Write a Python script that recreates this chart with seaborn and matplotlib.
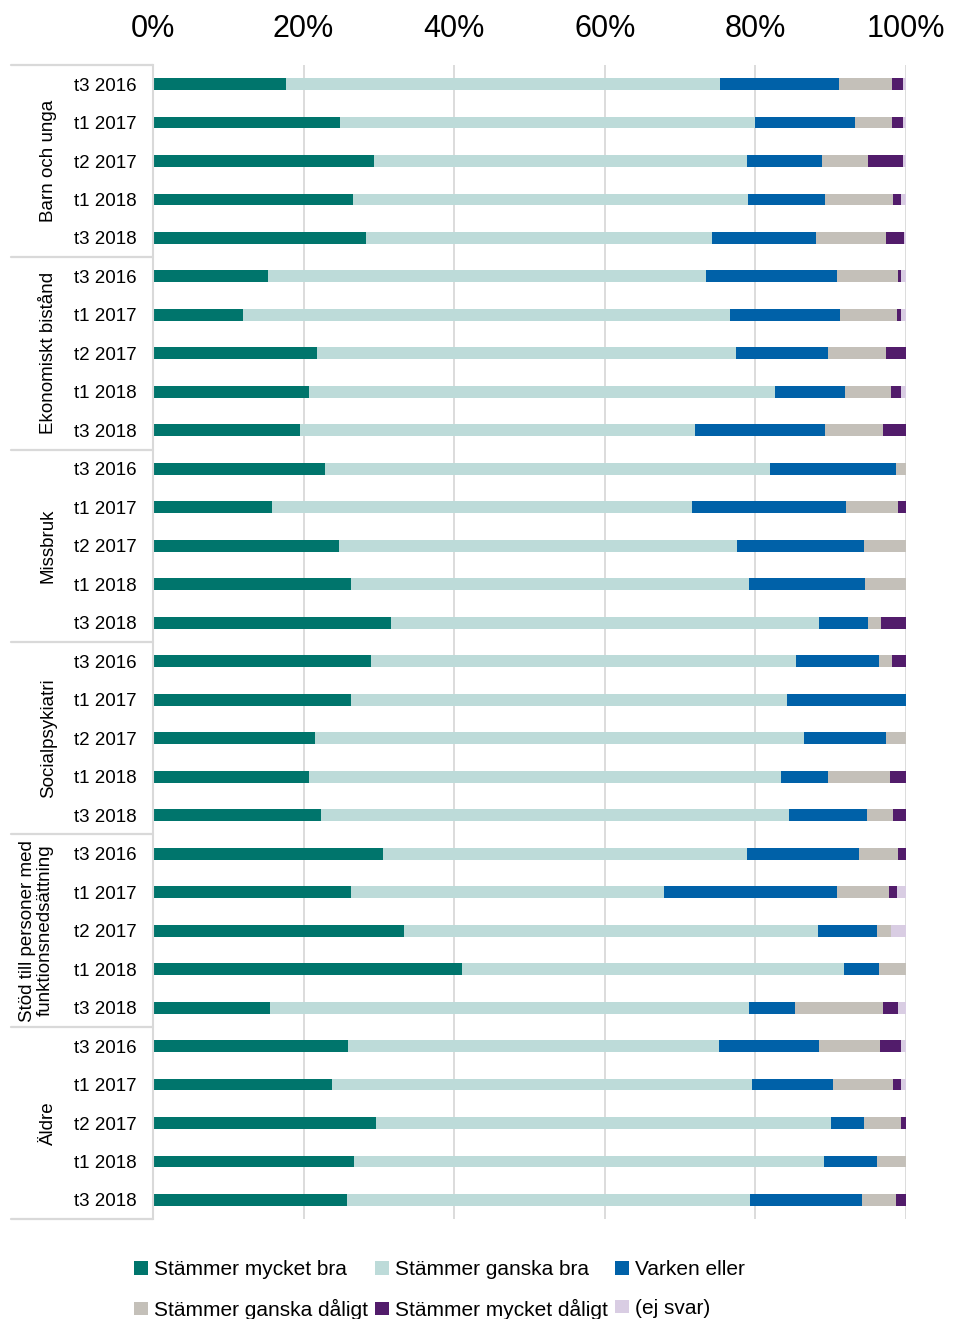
import pandas as pd
import matplotlib.pyplot as plt
import matplotlib.transforms as mtransforms
from matplotlib.patches import Patch
import seaborn as sns

# Set style
sns.set_theme(style="white")
plt.rcParams['font.family'] = ['Liberation Sans', 'DejaVu Sans']
plt.rcParams['text.color'] = 'black'
plt.rcParams['xtick.color'] = 'black'
plt.rcParams['ytick.color'] = 'black'

# Data (percent per answer)
groups = ["Barn och unga", "Ekonomiskt bistånd", "Missbruk", "Socialpsykiatri",
          "Stöd till personer med\nfunktionsnedsättning", "Äldre"]
periods = ["t3 2016", "t1 2017", "t2 2017", "t1 2018", "t3 2018"]

categories = ["Stämmer mycket bra", "Stämmer ganska bra", "Varken eller",
              "Stämmer ganska dåligt", "Stämmer mycket dåligt", "(ej svar)"]
colors = ["#00756c", "#bddbd9", "#0061a8", "#c4c0b9", "#521c6b", "#d9cde3"]

mycket_bra = [17.6, 24.9, 29.4, 26.6, 28.3,
              15.3, 11.9, 21.8, 20.7, 19.5,
              22.9, 15.8, 24.7, 26.3, 31.6,
              29.0, 26.3, 21.5, 20.7, 22.3,
              30.5, 26.3, 33.3, 41.1, 15.5,
              25.9, 23.8, 29.6, 26.7, 25.7]
ganska_bra = [57.7, 55.1, 49.5, 52.4, 45.9,
              58.1, 64.7, 55.6, 61.9, 52.5,
              59.1, 55.8, 52.8, 52.9, 56.8,
              56.4, 57.9, 65.0, 62.7, 62.2,
              48.4, 41.5, 55.0, 50.7, 63.7,
              49.2, 55.7, 60.4, 62.4, 53.6]
varken = [15.8, 13.2, 9.9, 10.3, 13.8,
          17.5, 14.6, 12.2, 9.3, 17.2,
          16.7, 20.4, 16.9, 15.3, 6.6,
          11.0, 15.8, 10.8, 6.2, 10.3,
          14.8, 23.0, 7.8, 4.6, 6.1,
          13.3, 10.8, 4.4, 7.0, 14.9]
ganska_daligt = [7.0, 5.0, 6.1, 9.0, 9.4,
                 8.0, 7.6, 7.8, 6.1, 7.8,
                 1.3, 6.9, 5.6, 5.5, 1.7,
                 1.8, 0.0, 2.7, 8.3, 3.5,
                 5.3, 6.9, 1.9, 3.6, 11.6,
                 8.1, 8.0, 5.0, 3.9, 4.5]
mycket_daligt = [1.5, 1.4, 4.7, 1.0, 2.3,
                 0.5, 0.5, 2.6, 1.3, 3.0,
                 0.0, 1.1, 0.0, 0.0, 3.3,
                 1.8, 0.0, 0.0, 2.1, 1.7,
                 1.0, 1.1, 0.0, 0.0, 2.0,
                 2.9, 1.1, 0.6, 0.0, 1.3]
ej_svar = [0.4, 0.4, 0.4, 0.7, 0.3,
           0.6, 0.7, 0.0, 0.7, 0.0,
           0.0, 0.0, 0.0, 0.0, 0.0,
           0.0, 0.0, 0.0, 0.0, 0.0,
           0.0, 1.2, 2.0, 0.0, 1.1,
           0.6, 0.6, 0.0, 0.0, 0.0]

series = [mycket_bra, ganska_bra, varken, ganska_daligt, mycket_daligt, ej_svar]

# Build table, one row per bar, with cumulative sums for stacking
rows = [(g, p) for g in groups for p in periods]
df = pd.DataFrame({"group": [r[0] for r in rows], "period": [r[1] for r in rows]})
df["row"] = [f"{i:02d}" for i in range(len(rows))]
for cat, vals in zip(categories, series):
    df[cat] = vals
df[[f"cum{k}" for k in range(len(categories))]] = df[categories].cumsum(axis=1).values

fig = plt.figure(figsize=(9.65, 13.19), dpi=100)
ax = fig.add_axes([153 / 965, 1 - 1219.2 / 1319, 753 / 965, (1219.2 - 64.8) / 1319])

# Draw the stacks from the outermost segment inwards
for k in reversed(range(len(categories))):
    sns.barplot(data=df, x=f"cum{k}", y="row", order=list(df["row"]), orient="h",
                color=colors[k], saturation=1, width=0.31, errorbar=None,
                linewidth=0, ax=ax)

ax.set_xlim(0, 100)
ax.set_xticks(range(0, 101, 20))
ax.set_xticklabels([f"{v}%" for v in range(0, 101, 20)])
ax.xaxis.tick_top()
ax.tick_params(axis="x", length=0, labelsize=22, pad=15)
ax.set_yticks(range(len(rows)))
ax.set_yticklabels(df["period"])
ax.tick_params(axis="y", length=0, labelsize=13.5, pad=11.5)
ax.set_xlabel("")
ax.set_ylabel("")
ax.xaxis.grid(True, color="#d9d9d9", linewidth=1.3)
ax.set_axisbelow(True)
for side in ["top", "right", "bottom"]:
    ax.spines[side].set_visible(False)
ax.spines["left"].set_color("#d9d9d9")
ax.spines["left"].set_linewidth(1.5)

# Group separators and group labels on the left
trans = mtransforms.blended_transform_factory(ax.transAxes, ax.transData)
n = len(periods)
for i in range(len(groups) + 1):
    b = i * n - 0.5
    ax.plot([-0.188, 0], [b, b], transform=trans, clip_on=False,
            color="#d9d9d9", linewidth=1.6)
for i, g in enumerate(groups):
    xpos = -0.155 if "\n" in g else -0.139
    ax.text(xpos, i * n + (n - 1) / 2, g, transform=trans, rotation=90,
            ha="center", va="center", fontsize=13.5, linespacing=1.05,
            multialignment="center")
ax.set_ylim(len(rows) - 0.5, -0.5)

# Legend, row-wise order in three columns
handles = [Patch(facecolor=c, edgecolor="none") for c in colors]
order = [0, 3, 1, 4, 2, 5]
fig.legend([handles[i] for i in order], [categories[i] for i in order],
           ncol=3, loc="upper left", bbox_to_anchor=(134 / 965, 1 - 1260 / 1319),
           frameon=False, fontsize=15, handlelength=0.65, handleheight=0.65,
           handletextpad=0.3, columnspacing=0.35, labelspacing=0.95,
           borderaxespad=0, borderpad=0)

plt.savefig("out.png", dpi=100)
